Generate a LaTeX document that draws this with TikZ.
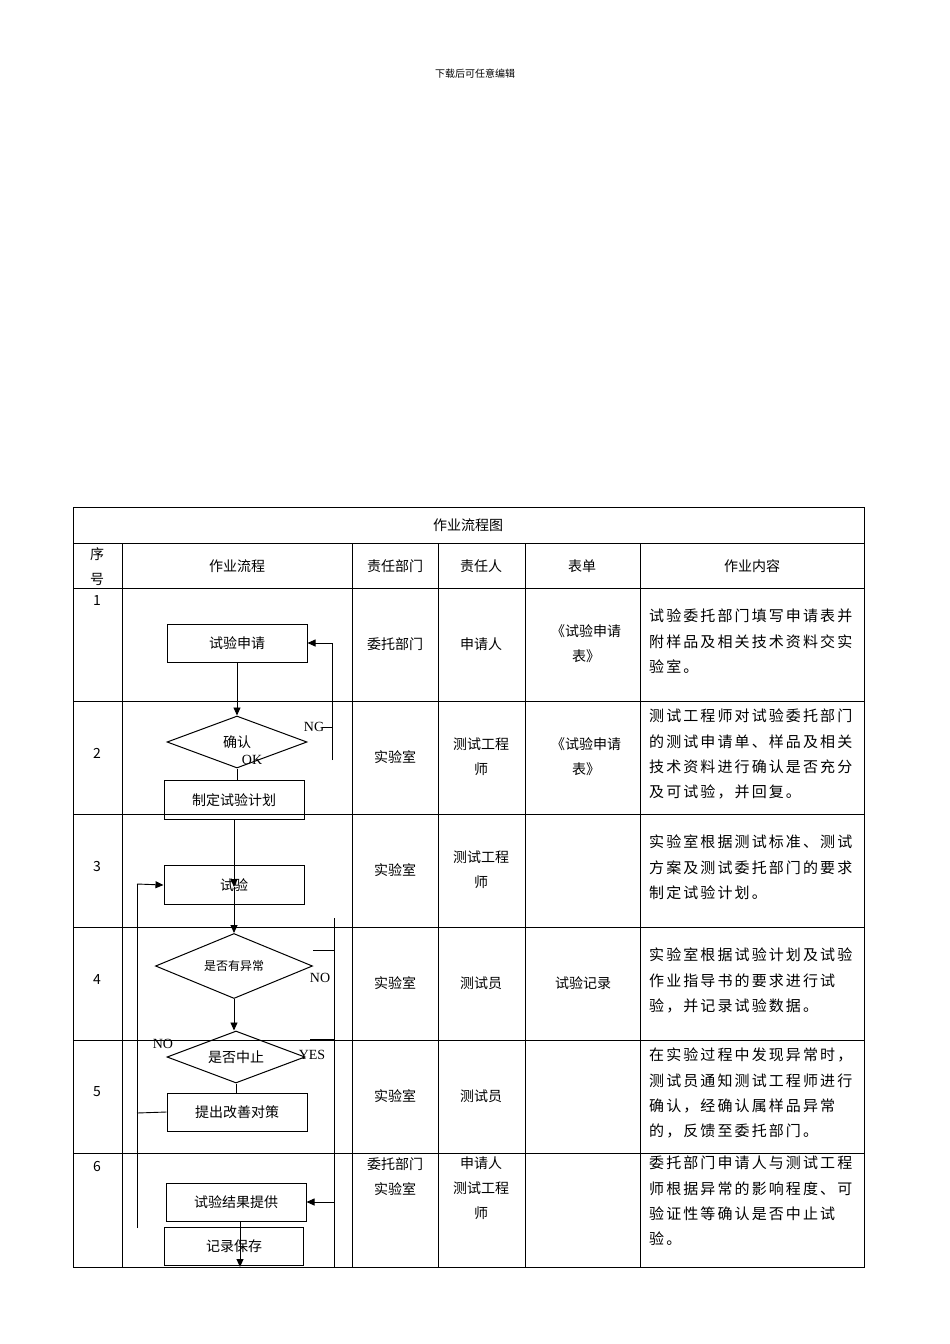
\documentclass[tikz,border=0pt]{standalone}
\usepackage{fontspec}
\setmainfont{Noto Sans CJK SC}
\newfontfamily\lat{Liberation Serif}
\newfontfamily\wide[LetterSpace=14]{Noto Sans CJK SC}
\usetikzlibrary{arrows.meta,shapes.geometric}
\begin{document}
\begin{tikzpicture}[x=1pt,y=-1pt,
  grid/.style={line width=0.6pt},
  fbox/.style={draw,line width=1pt},
  ln/.style={line width=0.9pt},
  arr/.style={ln,-{Triangle[length=8pt,width=7pt]}},
  t/.style={font=\fontsize{14}{25}\selectfont,inner sep=0pt,align=center},
  c/.style={font=\wide\fontsize{15}{25.3}\selectfont,inner sep=0pt,align=left,anchor=north west},
  lab/.style={font=\lat\fontsize{14}{14}\selectfont,inner sep=0pt}]
\useasboundingbox (0,0) rectangle (950,1344);
\fill[white] (0,0) rectangle (950,1344);
\node[font=\fontsize{10}{10}\selectfont] (hdr) at (475,74) {下载后可任意编辑};
% table
\draw[grid] (73,507) rectangle (864,1267);
\draw[grid] (73,543) -- (864,543);
\foreach \y in {588,701,814,927,1040,1153} \draw[grid] (73,\y) -- (864,\y);
\foreach \x in {122,352,438,525,640} \draw[grid] (\x,543) -- (\x,1267);
\node[t] (title) at (468,525) {作业流程图};
\node[t] (h1) at (97,567) {序\\号};
\node[t] (h2) at (237,566) {作业流程};
\node[t] (h3) at (395,566) {责任部门};
\node[t] (h4) at (481,566) {责任人};
\node[t] (h5) at (582,566) {表单};
\node[t] (h6) at (752,566) {作业内容};
% numbers
\node[t] (n1) at (97,601) {1};
\node[t] (n2) at (97,753) {2};
\node[t] (n3) at (97,866) {3};
\node[t] (n4) at (97,979) {4};
\node[t] (n5) at (97,1092) {5};
\node[t] (n6) at (97,1166) {6};
% dept
\node[t] (d1) at (395,644) {委托部门};
\node[t] (d2) at (395,757) {实验室};
\node[t] (d3) at (395,870) {实验室};
\node[t] (d4) at (395,983) {实验室};
\node[t] (d5) at (395,1096) {实验室};
\node[t,anchor=north] (d6) at (395,1157) {委托部门\\实验室};
% person
\node[t] (p1) at (481,644) {申请人};
\node[t] (p2) at (481,757) {测试工程\\师};
\node[t] (p3) at (481,870) {测试工程\\师};
\node[t] (p4) at (481,983) {测试员};
\node[t] (p5) at (481,1096) {测试员};
\node[t,anchor=north] (p6) at (481,1157) {申请人\\测试工程\\师};
% forms
\node[t] (f1) at (586,644) {《试验申请\\表》};
\node[t] (f2) at (586,757) {《试验申请\\表》};
\node[t] (f4) at (583,983) {试验记录};
% content
\node[c] (c1) at (649,609) {试验委托部门填写申请表并\\附样品及相关技术资料交实\\验室。};
\node[c] (c2) at (649,709) {测试工程师对试验委托部门\\的测试申请单、样品及相关\\技术资料进行确认是否充分\\及可试验，并回复。};
\node[c] (c3) at (649,835) {实验室根据测试标准、测试\\方案及测试委托部门的要求\\制定试验计划。};
\node[c] (c4) at (649,948) {实验室根据试验计划及试验\\作业指导书的要求进行试\\验，并记录试验数据。};
\node[c] (c5) at (649,1048) {在实验过程中发现异常时，\\测试员通知测试工程师进行\\确认，经确认属样品异常\\的，反馈至委托部门。};
\node[c] (c6) at (649,1156) {委托部门申请人与测试工程\\师根据异常的影响程度、可\\验证性等确认是否中止试\\验。};
% flowchart
\node[fbox,t,minimum width=140pt,minimum height=38pt] (b1) at (237,643) {试验申请};
\node[fbox,t,diamond,aspect=2.7,minimum width=140pt,minimum height=52pt,inner sep=0pt] (dm1) at (237,742) {确认};
\node[fbox,t,minimum width=140pt,minimum height=39pt] (b2) at (234,800) {制定试验计划};
\node[fbox,t,minimum width=140pt,minimum height=39pt] (b3) at (234,885) {试验};
\node[fbox,diamond,aspect=2.4,minimum width=157pt,minimum height=65pt,inner sep=0pt,font=\fontsize{12}{12}\selectfont] (dm2) at (234,966) {是否有异常};
\node[fbox,t,diamond,aspect=2.65,minimum width=138pt,minimum height=52pt,inner sep=0pt] (dm3) at (236,1057) {是否中止};
\node[fbox,t,minimum width=140pt,minimum height=38pt] (b4) at (237,1112) {提出改善对策};
\node[fbox,t,minimum width=140pt,minimum height=38pt] (b5) at (236,1202) {试验结果提供};
\node[fbox,t,minimum width=139pt,minimum height=38pt] (b6) at (234,1246) {记录保存};
\coordinate (ng1) at (332,760);
\coordinate (ng2) at (332,643);
\coordinate (ngt) at (322,727);
\coordinate (r1) at (334,918);
\coordinate (r2) at (334,1267);
\coordinate (l1) at (137,1228);
\coordinate (l2) at (137,884);
\coordinate (bot) at (240,1267);
\draw[arr] (b1.south) -- (dm1.north);
\draw[ln] (b2.north -| dm1.south) -- (dm1.south);
\draw[arr] (b2.south) -- (234,887);
\draw[ln] (234,887) -- (b3.south);
\draw[arr] (b3.south) -- (dm2.north);
\draw[arr] (dm2.south) -- (dm2.south |- dm3.north);
\draw[ln] (dm3.south) -- (dm3.south |- b4.north);
\draw[ln] (ng1) -- (ng2);
\draw[arr] (ng2) -- (b1.east);
\draw[ln] (ngt) -- (332,727);
\draw[ln] (r1) -- (r2);
\draw[ln] (313,950) -- (334,950);
\draw[ln] (310,1039) -- (334,1039);
\draw[arr] (334,1202) -- (b5.east);
\draw[ln] (l1) -- (l2);
\draw[arr] (l2) -- (b3.west);
\draw[ln] (137,1040) -- (160,1040);
\draw[ln] (137,1113) -- (b4.west);
\draw[arr] (240,1221) -- (bot);
\node[lab] (lng) at (314,727) {NG};
\node[lab] (lok) at (252,760) {OK};
\node[lab] (lno1) at (320,978) {NO};
\node[lab] (lyes) at (312,1055) {YES};
\node[lab] (lno2) at (163,1044) {NO};
\end{tikzpicture}
\end{document}
